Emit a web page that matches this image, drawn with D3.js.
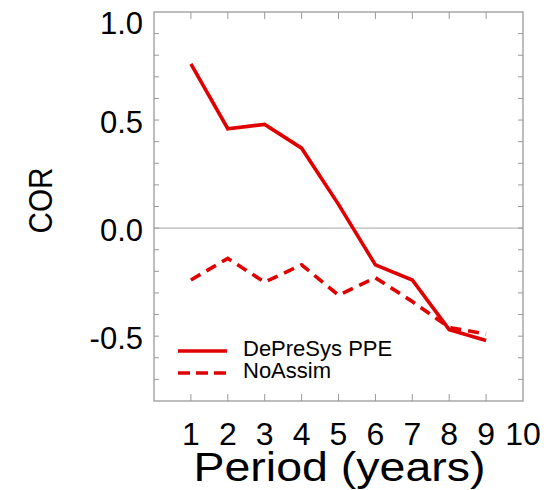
<!DOCTYPE html>
<html>
<head>
<meta charset="utf-8">
<script src="https://cdn.jsdelivr.net/npm/d3@7"></script>
<style>
  html, body { margin: 0; padding: 0; background: #fff; }
  text { font-family: "Liberation Sans", Arial, Helvetica, sans-serif; fill: #000; }
</style>
</head>
<body>
<svg id="chart" width="554" height="490"></svg>
<script>
// Forecast period (years) and correlation skill for each system
const periods = [1, 2, 3, 4, 5, 6, 7, 8, 9];
const depresysPPE = [0.76, 0.46, 0.48, 0.37, 0.11, -0.17, -0.24, -0.47, -0.52];
const noAssim = [-0.24, -0.14, -0.25, -0.17, -0.31, -0.23, -0.34, -0.46, -0.49];
const xTickLabels = [1, 2, 3, 4, 5, 6, 7, 8, 9, 10];
const yTickLabels = [1.0, 0.5, 0.0, -0.5];
const seriesNames = ["DePreSys PPE", "NoAssim"];

const svg = d3.select("#chart");
const plotLeft = 154, plotRight = 523, plotTop = 12, plotBottom = 401;
const red = "#e00000";
const axisGrey = "#9a9a9a";

const x = d3.scaleLinear().domain([0, 10]).range([plotLeft, plotRight]);
const y = d3.scaleLinear().domain([-0.8, 1.0]).range([plotBottom, plotTop]);

// Zero reference line
svg.append("line")
  .attr("x1", plotLeft).attr("x2", plotRight)
  .attr("y1", y(0)).attr("y2", y(0))
  .attr("stroke", "#b8b8b8").attr("stroke-width", 1.2);

// Frame ticks: integer periods on top/bottom, 0.1 steps on left/right
const g = svg.append("g");
const xTicks = d3.range(1, 10);
const yTicks = d3.range(-7, 10).map(d => d / 10);
const tickStyle = sel => sel.attr("stroke", axisGrey).attr("stroke-width", 1);

g.append("g").selectAll("line").data(xTicks).join("line").call(tickStyle)
  .attr("x1", d => x(d)).attr("x2", d => x(d))
  .attr("y1", plotBottom).attr("y2", plotBottom - 7);
g.append("g").selectAll("line").data(xTicks).join("line").call(tickStyle)
  .attr("x1", d => x(d)).attr("x2", d => x(d))
  .attr("y1", plotTop).attr("y2", plotTop + 7);
g.append("g").selectAll("line").data(yTicks).join("line").call(tickStyle)
  .attr("x1", plotLeft).attr("x2", plotLeft + 5)
  .attr("y1", d => y(d)).attr("y2", d => y(d));
g.append("g").selectAll("line").data(yTicks).join("line").call(tickStyle)
  .attr("x1", plotRight).attr("x2", plotRight - 5)
  .attr("y1", d => y(d)).attr("y2", d => y(d));

// Plot frame
svg.append("rect")
  .attr("x", plotLeft).attr("y", plotTop)
  .attr("width", plotRight - plotLeft).attr("height", plotBottom - plotTop)
  .attr("fill", "none").attr("stroke", axisGrey).attr("stroke-width", 1.3);

// Y tick labels (the top one is kept inside the canvas)
svg.append("g").selectAll("text").data(yTickLabels).join("text")
  .attr("x", plotLeft - 11)
  .attr("y", d => Math.max(y(d) + 12.5, plotTop + 21.5))
  .attr("text-anchor", "end")
  .attr("font-size", 31)
  .text(d => d.toFixed(1));

// X tick labels
svg.append("g").selectAll("text").data(xTickLabels).join("text")
  .attr("x", d => x(d))
  .attr("y", 445)
  .attr("text-anchor", "middle")
  .attr("font-size", 32)
  .text(d => d);

// Axis titles
svg.append("text")
  .attr("x", (plotLeft + plotRight) / 2 + 1)
  .attr("y", 480.5)
  .attr("text-anchor", "middle")
  .attr("font-size", 41)
  .attr("textLength", 292)
  .attr("lengthAdjust", "spacingAndGlyphs")
  .text("Period (years)");

svg.append("text")
  .attr("transform", "translate(52,200.5) rotate(-90)")
  .attr("text-anchor", "middle")
  .attr("font-size", 34)
  .attr("textLength", 66)
  .attr("lengthAdjust", "spacingAndGlyphs")
  .text("COR");

// Lines
const line = d3.line().x((d, i) => x(periods[i])).y(d => y(d));
const seriesData = [depresysPPE, noAssim];
const dashes = [null, "11,7"];

svg.append("g").selectAll("path").data(seriesData).join("path")
  .attr("d", line)
  .attr("fill", "none")
  .attr("stroke", red)
  .attr("stroke-width", 3.6)
  .attr("stroke-linejoin", "miter")
  .attr("stroke-dasharray", (d, i) => dashes[i]);

// Legend
const legend = svg.append("g");
const legendRows = [351, 373];
seriesNames.forEach((name, i) => {
  legend.append("line")
    .attr("x1", 178).attr("x2", 227)
    .attr("y1", legendRows[i]).attr("y2", legendRows[i])
    .attr("stroke", red).attr("stroke-width", 3.6)
    .attr("stroke-dasharray", i === 1 ? "12,6" : null);
  legend.append("text")
    .attr("x", 243)
    .attr("y", legendRows[i] + 4.5)
    .attr("font-size", 22)
    .text(name);
});
</script>
</body>
</html>
